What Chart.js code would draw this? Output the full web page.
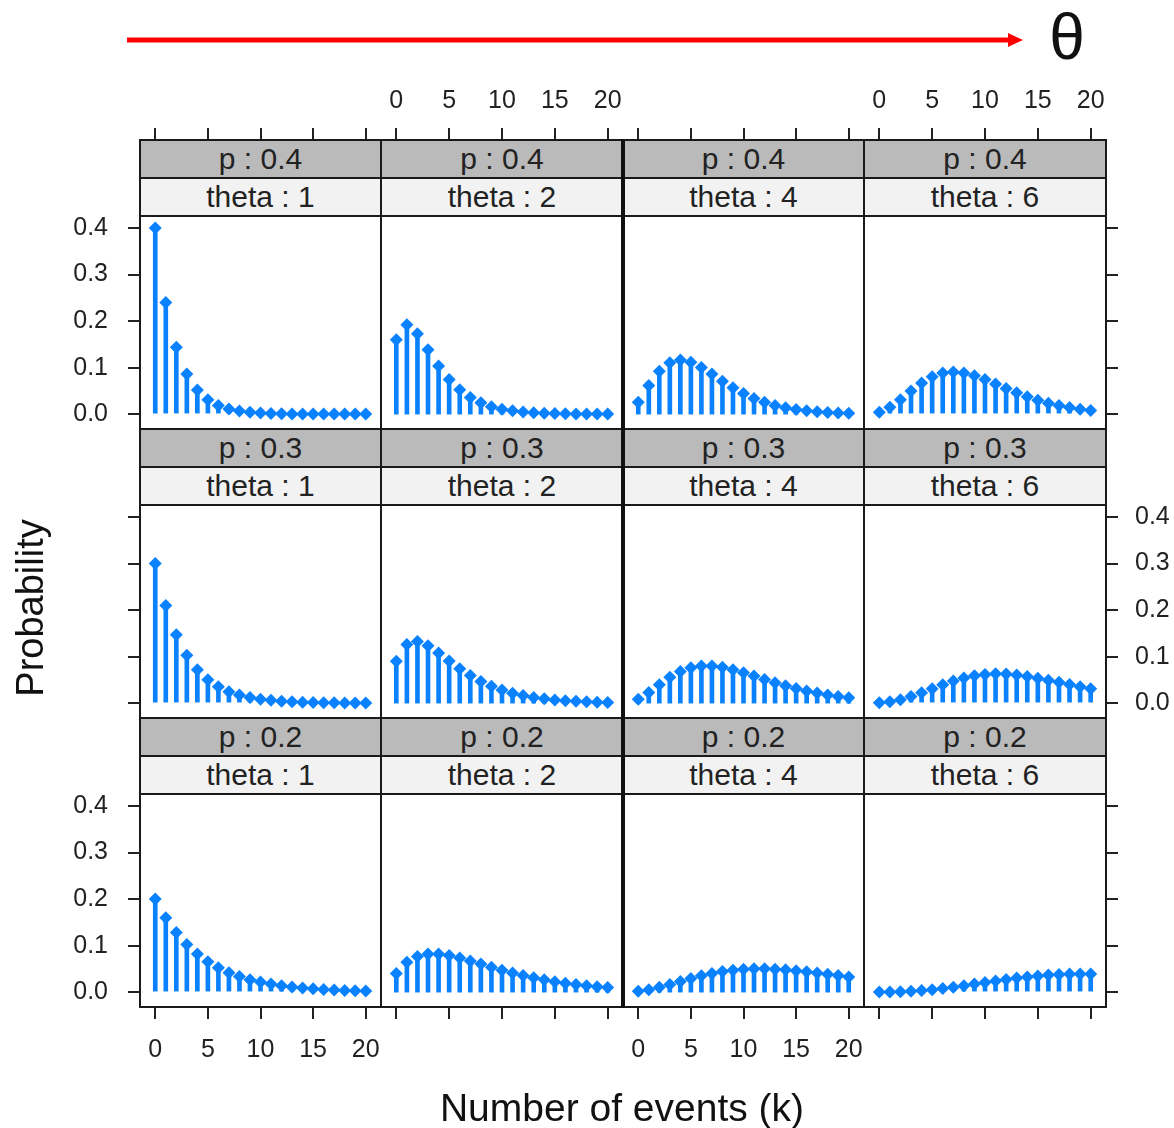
<!DOCTYPE html>
<html>
<head>
<meta charset="utf-8">
<script src="https://cdn.jsdelivr.net/npm/chart.js@4.4.0/dist/chart.umd.min.js"></script>
<style>
  body { margin: 0; background: #fff; }
  #page { position: relative; width: 1174px; height: 1128px; overflow: hidden;
          font-family: 'Liberation Sans', Arial, sans-serif; color: #111; }
  #page canvas { position: absolute; z-index: 1; }
  .strip { position: absolute; box-sizing: border-box; border: 2px solid #1a1a1a; text-align: center;
           color: #222; font-size: 30px; line-height: 36px; z-index: 2; white-space: nowrap; }
  .frame { position: absolute; box-sizing: border-box; border: 2px solid #1a1a1a; z-index: 2; }
  .label { position: absolute; white-space: nowrap; z-index: 3; }
</style>
</head>
<body>
<div id="page">
  <svg width="1174" height="80" style="position:absolute;left:0;top:0">
    <line x1="127" y1="40" x2="1010" y2="40" stroke="#ff0000" stroke-width="5"/>
    <polygon points="1008,33 1023,40 1008,47" fill="#ff0000"/>
  </svg>
  <div class="label" style="left:1067px;top:37px;transform:translate(-50%,-50%);font-size:64px;">θ</div>
  <div class="label" style="left:30px;top:608px;transform:translate(-50%,-50%) rotate(-90deg);font-size:38px;">Probability</div>
  <div class="label" style="left:622px;top:1108px;transform:translate(-50%,-50%);font-size:39px;">Number of events (k)</div>
</div>
<script>
const kValues = [0, 1, 2, 3, 4, 5, 6, 7, 8, 9, 10, 11, 12, 13, 14, 15, 16, 17, 18, 19, 20];
const pLevels = [0.4, 0.3, 0.2];
const thetaLevels = [1, 2, 4, 6];
const xTicks = [0, 5, 10, 15, 20];
const yTicks = [0, 0.1, 0.2, 0.3, 0.4];

// p = 0.4
const p04_t1 = [0.4, 0.24, 0.144, 0.0864, 0.0518, 0.0311, 0.0187, 0.0112, 0.0067, 0.004, 0.0024, 0.0015, 0.0009, 0.0005, 0.0003, 0.0002, 0.0001, 0.0001, 0, 0, 0];
const p04_t2 = [0.16, 0.192, 0.1728, 0.1382, 0.1037, 0.0746, 0.0523, 0.0358, 0.0242, 0.0161, 0.0106, 0.007, 0.0045, 0.0029, 0.0019, 0.0012, 0.0008, 0.0005, 0.0003, 0.0002, 0.0001];
const p04_t4 = [0.0256, 0.0614, 0.0922, 0.1106, 0.1161, 0.1115, 0.1003, 0.086, 0.0709, 0.0568, 0.0443, 0.0338, 0.0254, 0.0187, 0.0136, 0.0098, 0.007, 0.0049, 0.0035, 0.0024, 0.0017];
const p04_t6 = [0.0041, 0.0147, 0.031, 0.0495, 0.0669, 0.0803, 0.0883, 0.0908, 0.0885, 0.0826, 0.0744, 0.0649, 0.0552, 0.0458, 0.0373, 0.0299, 0.0235, 0.0183, 0.014, 0.0106, 0.008];
// p = 0.3
const p03_t1 = [0.3, 0.21, 0.147, 0.1029, 0.072, 0.0504, 0.0353, 0.0247, 0.0173, 0.0121, 0.0085, 0.0059, 0.0042, 0.0029, 0.002, 0.0014, 0.001, 0.0007, 0.0005, 0.0003, 0.0002];
const p03_t2 = [0.09, 0.126, 0.1323, 0.1235, 0.108, 0.0908, 0.0741, 0.0593, 0.0467, 0.0363, 0.028, 0.0214, 0.0162, 0.0122, 0.0092, 0.0068, 0.0051, 0.0038, 0.0028, 0.0021, 0.0015];
const p03_t4 = [0.0081, 0.0227, 0.0397, 0.0556, 0.0681, 0.0762, 0.08, 0.08, 0.077, 0.0719, 0.0654, 0.0583, 0.051, 0.0439, 0.0374, 0.0314, 0.0261, 0.0215, 0.0175, 0.0142, 0.0114];
const p03_t6 = [0.0007, 0.0031, 0.0075, 0.014, 0.0221, 0.0309, 0.0396, 0.0475, 0.0541, 0.0589, 0.0618, 0.063, 0.0624, 0.0605, 0.0575, 0.0537, 0.0493, 0.0447, 0.0399, 0.0353, 0.0309];
// p = 0.2
const p02_t1 = [0.2, 0.16, 0.128, 0.1024, 0.0819, 0.0655, 0.0524, 0.0419, 0.0336, 0.0268, 0.0215, 0.0172, 0.0137, 0.011, 0.0088, 0.007, 0.0056, 0.0045, 0.0036, 0.0029, 0.0023];
const p02_t2 = [0.04, 0.064, 0.0768, 0.0819, 0.0819, 0.0786, 0.0734, 0.0671, 0.0604, 0.0537, 0.0472, 0.0412, 0.0357, 0.0308, 0.0264, 0.0225, 0.0191, 0.0162, 0.0137, 0.0115, 0.0097];
const p02_t4 = [0.0016, 0.0051, 0.0102, 0.0164, 0.0229, 0.0294, 0.0352, 0.0403, 0.0443, 0.0472, 0.0491, 0.05, 0.05, 0.0493, 0.0479, 0.0459, 0.0436, 0.0411, 0.0383, 0.0355, 0.0327];
const p02_t6 = [0.0001, 0.0003, 0.0009, 0.0018, 0.0033, 0.0053, 0.0078, 0.0106, 0.0138, 0.0172, 0.0206, 0.024, 0.0272, 0.0301, 0.0327, 0.0349, 0.0367, 0.038, 0.0388, 0.0392, 0.0392];

// rows follow pLevels, columns follow thetaLevels
const panelData = [
  [p04_t1, p04_t2, p04_t4, p04_t6],
  [p03_t1, p03_t2, p03_t4, p03_t6],
  [p02_t1, p02_t2, p02_t4, p02_t6]
];

const colEdges = [140, 381, 623, 864, 1106];
const plotTops = [216, 505, 794];
const plotH = 213;
const stripH = 38;
const blue = '#0a82ff';
const tickFont = { family: "'Liberation Sans', Arial, sans-serif", size: 25 };
const page = document.getElementById('page');

function addBox(cls, x, y, w, h, text, bg) {
  const d = document.createElement('div');
  d.className = cls;
  // boxes overlap by 1px so shared edges come out as one 2px line
  d.style.left = (x - 1) + 'px';
  d.style.top = (y - 1) + 'px';
  d.style.width = (w + 2) + 'px';
  d.style.height = (h + 2) + 'px';
  if (bg) d.style.background = bg;
  if (text) d.textContent = text;
  page.appendChild(d);
}

function drawPanel(r, c) {
  const left = colEdges[c];
  const w = colEdges[c + 1] - left;
  const top = plotTops[r];
  const xShown = r !== 1;
  const yShown = c === 0 || c === 3;
  // sides without an axis get a wide empty margin so tick label padding never squeezes the plot area
  const mL = c === 0 ? 80 : 40;
  const mR = c === 3 ? 68 : 40;
  const mT = r === 0 ? 136 : 40;
  const mB = r === 2 ? 121 : 40;

  const canvas = document.createElement('canvas');
  canvas.width = w + mL + mR;
  canvas.height = plotH + mT + mB;
  canvas.style.left = (left - mL) + 'px';
  canvas.style.top = (top - mT) + 'px';
  page.appendChild(canvas);

  // strips and frame
  addBox('strip', left, top - 2 * stripH, w, stripH, 'p : ' + pLevels[r], '#bababa');
  addBox('strip', left, top - stripH, w, stripH, 'theta : ' + thetaLevels[c], '#f2f2f2');
  addBox('frame', left, top, w, plotH);

  const values = panelData[r][c];
  const pts = kValues.map((k, i) => ({ x: k, y: values[i] }));

  const showXLabels = (r === 0 && (c === 1 || c === 3)) || (r === 2 && (c === 0 || c === 2));
  const showYLabels = (c === 0 && r !== 1) || (c === 3 && r === 1);

  new Chart(canvas, {
    type: 'scatter',
    data: {
      datasets: [
        {
          type: 'bar',
          data: pts,
          backgroundColor: blue,
          borderWidth: 0,
          barThickness: 4
        },
        {
          type: 'scatter',
          data: pts,
          backgroundColor: blue,
          borderWidth: 0,
          pointStyle: 'rectRot',
          pointRadius: 6.5
        }
      ]
    },
    options: {
      responsive: false,
      maintainAspectRatio: false,
      animation: false,
      devicePixelRatio: 1,
      events: [],
      layout: {
        padding: {
          left: c === 0 ? 0 : mL,
          right: c === 3 ? 0 : mR,
          top: r === 0 ? 0 : mT,
          bottom: r === 2 ? 0 : mB
        }
      },
      plugins: { legend: { display: false }, tooltip: { enabled: false } },
      scales: {
        x: {
          type: 'linear',
          min: -1.45,
          max: 21.45,
          offset: false,
          display: xShown,
          position: r === 0 ? 'top' : 'bottom',
          afterBuildTicks: s => { s.ticks = xTicks.map(v => ({ value: v })); },
          afterFit: s => { if (xShown) s.height = r === 0 ? mT : mB; },
          border: { display: false },
          grid: {
            drawOnChartArea: false,
            offset: false,
            tickLength: r === 0 ? 88 : 12,
            color: '#222',
            lineWidth: 2
          },
          ticks: {
            padding: r === 0 ? 12 : 16,
            color: '#222',
            font: tickFont,
            maxRotation: 0,
            autoSkip: false,
            callback: v => showXLabels ? String(v) : ''
          }
        },
        y: {
          type: 'linear',
          min: -0.032,
          max: 0.426,
          display: yShown,
          position: c === 0 ? 'left' : 'right',
          afterBuildTicks: s => { s.ticks = yTicks.map(v => ({ value: v })); },
          afterFit: s => { if (yShown) s.width = c === 0 ? mL : mR; },
          border: { display: false },
          grid: {
            drawOnChartArea: false,
            tickLength: 12,
            color: '#222',
            lineWidth: 2
          },
          ticks: {
            padding: c === 0 ? 20 : 17,
            color: '#222',
            font: tickFont,
            callback: v => showYLabels ? v.toFixed(1) : ''
          }
        }
      }
    }
  });
}

for (let r = 0; r < pLevels.length; r++) {
  for (let c = 0; c < thetaLevels.length; c++) {
    drawPanel(r, c);
  }
}

// heavier divider between the two column pairs
const divider = document.createElement('div');
divider.style.cssText = 'position:absolute;left:621px;top:139px;width:4px;height:869px;background:#111;z-index:3';
page.appendChild(divider);
</script>
</body>
</html>
